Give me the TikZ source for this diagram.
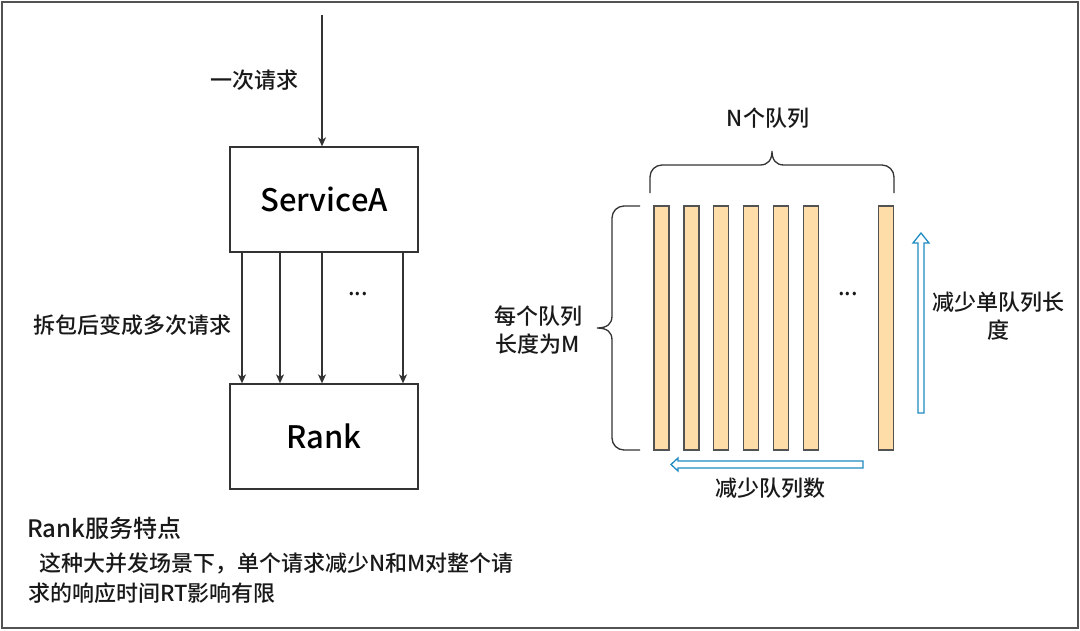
\documentclass[tikz,border=0pt]{standalone}
\usepackage{fontspec}
\setmainfont{Noto Sans CJK SC}[UprightFont={* Medium}]
\usetikzlibrary{arrows.meta}
\definecolor{ln}{HTML}{333333}
\definecolor{barfill}{HTML}{FFDDA8}
\definecolor{bl}{HTML}{1E8BC3}
\tikzset{
  box/.style={draw=ln,line width=1.3pt,minimum width=188pt,minimum height=105pt,inner sep=0pt,font=\fontsize{31}{36}\selectfont},
  bar/.style={draw=ln!85,line width=1.2pt,fill=barfill,minimum width=15pt,minimum height=244pt,inner sep=0pt},
  lbl/.style={font=\fontsize{22}{28}\selectfont,text=black!90,inner sep=0pt},
  arr/.style={draw=ln,line width=1.3pt,-{Stealth[length=9pt,width=8pt,inset=2.5pt]}},
  brace/.style={draw=ln,line width=1.3pt},
  hollow/.style={draw=bl,line width=1.3pt,fill=white},
}
\begin{document}
\begin{tikzpicture}[x=1pt,y=-1pt]
\useasboundingbox (0,0) rectangle (1080,630);
\draw[draw=ln!85,line width=2pt] (2,2) rectangle (1078,628);

% left part
\node[box] (sa) at (324,199.5) {ServiceA};
\node[box] (rank) at (324,436.5) {Rank};
\coordinate (top) at (322,15);
\draw[arr] (top) -- (top |- sa.north);
\node[lbl] (l1) at (254,80) {一次请求};
\foreach \x/\n in {242/c1,280/c2,322/c3,403/c4}{
  \coordinate (\n) at (\x,0);
  \draw[arr] (\n |- sa.south) -- (\n |- rank.north);
}
\node[lbl] (dots1) at (358,294) {...};
\node[lbl] (l2) at (132.5,325) {拆包后变成多次请求};
\node[lbl,anchor=west,font=\fontsize{24}{28}\selectfont] (t1) at (27,528) {Rank服务特点};
\node[lbl,anchor=west] (t2) at (28,563) {\hspace{11pt}这种大并发场景下，单个请求减少N和M对整个请};
\node[lbl,anchor=west] (t3) at (28,593) {求的响应时间RT影响有限};

% right part
\foreach \x/\n in {661.5/b1,691.5/b2,721/b3,751/b4,781/b5,811/b6,886/b7}{
  \node[bar] (\n) at (\x,328) {};
}
\node[lbl] (dots2) at (848,294) {...};
% top brace
\draw[brace] (650,193) -- (650,177) arc[start angle=180,end angle=270,radius=12] -- (760,165)
  .. controls (768,165) and (772,160) .. (772,151)
  .. controls (772,160) and (776,165) .. (784,165) -- (882,165)
  arc[start angle=270,end angle=360,radius=12] -- (894,193);
\node[lbl] (nq) at (768,118) {N个队列};
% left brace
\draw[brace] (640,206) -- (624,206) arc[start angle=-90,end angle=-180,radius=12] -- (612,316)
  .. controls (612,324) and (607,328) .. (597,328)
  .. controls (607,328) and (612,332) .. (612,340) -- (612,438)
  arc[start angle=180,end angle=90,radius=12] -- (640,450);
\node[lbl,align=center] (mq) at (538,330) {每个队列\\长度为M};
% hollow arrows
\draw[hollow] (918,413) -- (918,243) -- (913,243) -- (921,233) -- (929,243) -- (924,243) -- (924,413) -- cycle;
\draw[hollow] (863,461) -- (678,461) -- (678,458) -- (671,464.5) -- (678,471) -- (678,468) -- (863,468) -- cycle;
\node[lbl,align=center] (r1) at (998,316) {减少单队列长\\度};
\node[lbl] (r2) at (770,488) {减少队列数};
\end{tikzpicture}
\end{document}
